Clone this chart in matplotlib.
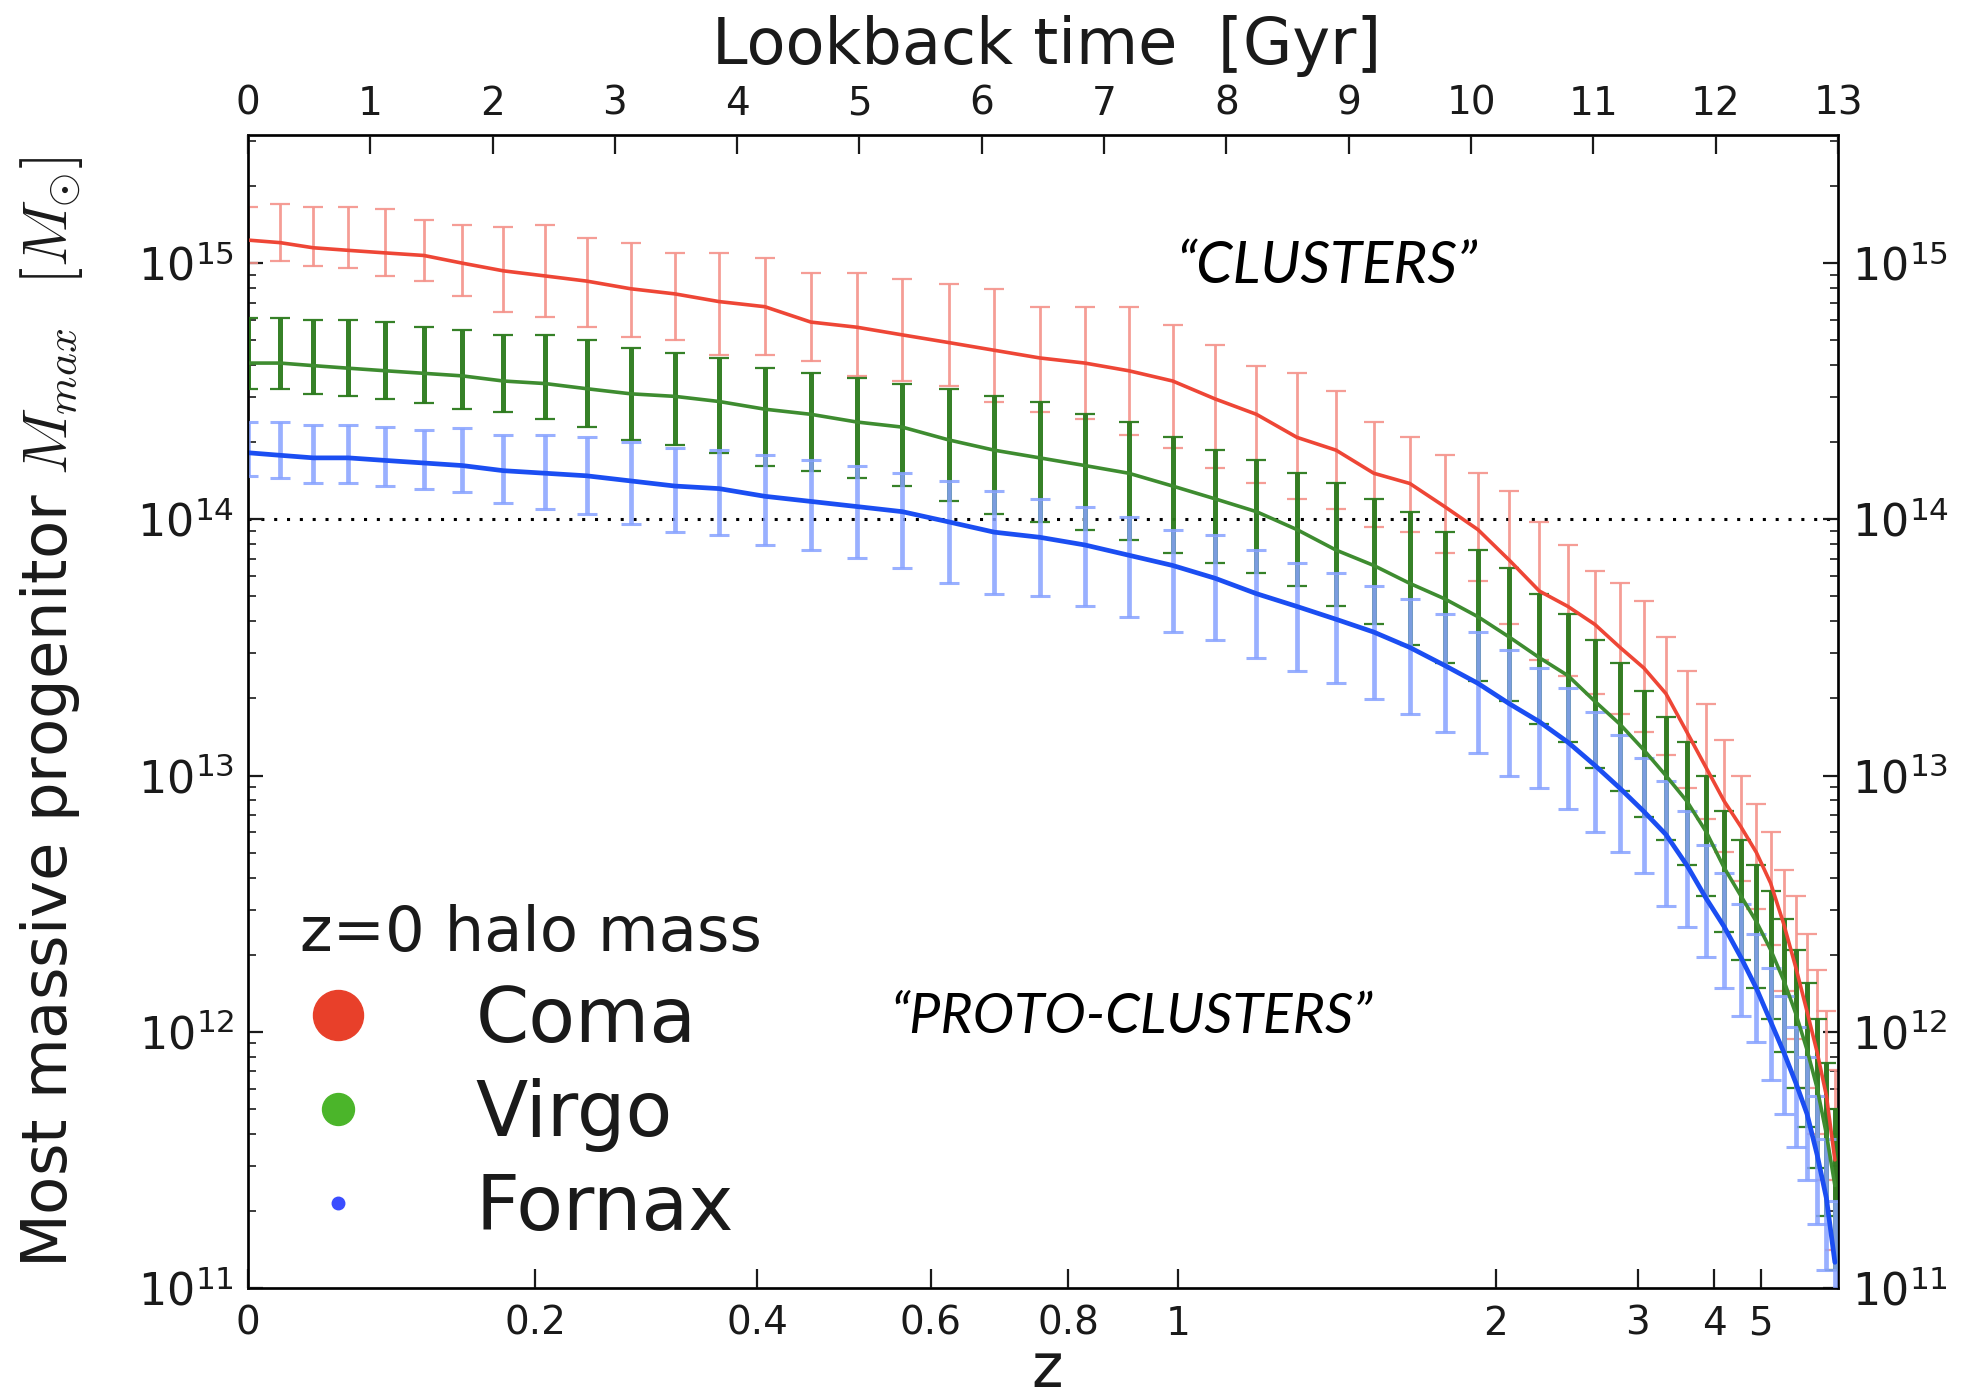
import numpy as np
import matplotlib
matplotlib.use("Agg")
import matplotlib.pyplot as plt
from matplotlib.lines import Line2D
from matplotlib.ticker import LogLocator, NullFormatter, NullLocator

plt.rcParams['font.family'] = ['DejaVu Sans']
plt.rcParams['mathtext.fontset'] = 'dejavusans'

# ---------------- data ----------------
# snapshot redshifts (Millennium simulation outputs)
snap_z = [0.0, 0.020, 0.041, 0.064, 0.089, 0.116, 0.144, 0.175, 0.208, 0.242,
          0.280, 0.320, 0.362, 0.408, 0.457, 0.509, 0.564, 0.624, 0.687, 0.755,
          0.828, 0.905, 0.989, 1.078, 1.173, 1.276, 1.386, 1.504, 1.630, 1.766,
          1.913, 2.070, 2.239, 2.422, 2.619, 2.831, 3.060, 3.306, 3.576, 3.866,
          4.179, 4.520, 4.888, 5.289, 5.724, 6.197, 6.712, 7.272, 7.883, 8.549]

# log10 of most massive progenitor mass (median), and error bar extents in dex
coma_logm = [15.09, 15.08, 15.06, 15.05, 15.04, 15.03, 15.00, 14.97, 14.95, 14.93,
             14.90, 14.88, 14.85, 14.83, 14.77, 14.75, 14.72, 14.69, 14.66, 14.63,
             14.61, 14.58, 14.54, 14.47, 14.41, 14.32, 14.27, 14.18, 14.14, 14.05,
             13.96, 13.84, 13.72, 13.66, 13.59, 13.50, 13.42, 13.32, 13.17, 13.03,
             12.90, 12.80, 12.70, 12.58, 12.42, 12.25, 12.08, 11.92, 11.75, 11.50]
coma_up = [0.13, 0.15, 0.16, 0.17, 0.17, 0.14, 0.15, 0.17, 0.20, 0.17,
           0.18, 0.16, 0.19, 0.19, 0.19, 0.21, 0.22, 0.23, 0.24, 0.20,
           0.22, 0.25, 0.22, 0.21, 0.19, 0.25, 0.23, 0.20, 0.18, 0.20,
           0.22, 0.27, 0.27, 0.24, 0.21, 0.25, 0.26, 0.22, 0.24, 0.25,
           0.24, 0.20, 0.19, 0.20, 0.21, 0.28, 0.30, 0.32, 0.33, 0.35]
coma_lo = [0.09, 0.07, 0.07, 0.07, 0.09, 0.10, 0.13, 0.16, 0.16, 0.18,
           0.19, 0.18, 0.21, 0.19, 0.15, 0.19, 0.18, 0.17, 0.20, 0.21,
           0.22, 0.25, 0.26, 0.27, 0.27, 0.24, 0.23, 0.21, 0.19, 0.18,
           0.20, 0.25, 0.27, 0.27, 0.27, 0.26, 0.25, 0.24, 0.22, 0.20,
           0.20, 0.21, 0.22, 0.24, 0.26, 0.28, 0.30, 0.32, 0.33, 0.35]

virgo_logm = [14.61, 14.61, 14.60, 14.59, 14.58, 14.57, 14.56, 14.54, 14.53, 14.51,
              14.49, 14.48, 14.46, 14.43, 14.41, 14.38, 14.36, 14.31, 14.27, 14.24,
              14.21, 14.18, 14.13, 14.08, 14.03, 13.96, 13.88, 13.82, 13.75, 13.69,
              13.62, 13.54, 13.46, 13.39, 13.29, 13.20, 13.10, 13.00, 12.90, 12.78,
              12.64, 12.53, 12.43, 12.32, 12.20, 12.07, 11.93, 11.78, 11.60, 11.40]
virgo_up = [0.175, 0.175, 0.18, 0.19, 0.19, 0.18, 0.18, 0.18, 0.19, 0.19,
            0.18, 0.17, 0.17, 0.16, 0.16, 0.17, 0.17, 0.20, 0.21, 0.22,
            0.20, 0.20, 0.19, 0.19, 0.20, 0.22, 0.26, 0.26, 0.28, 0.26,
            0.26, 0.27, 0.25, 0.24, 0.24, 0.24, 0.23, 0.23, 0.23, 0.22,
            0.22, 0.22, 0.22, 0.23, 0.24, 0.25, 0.26, 0.27, 0.28, 0.30]
virgo_lo = [0.10, 0.10, 0.11, 0.11, 0.11, 0.115, 0.13, 0.12, 0.14, 0.15,
            0.18, 0.19, 0.20, 0.22, 0.22, 0.22, 0.23, 0.24, 0.25, 0.25,
            0.25, 0.26, 0.26, 0.25, 0.24, 0.22, 0.22, 0.23, 0.24, 0.25,
            0.25, 0.25, 0.26, 0.26, 0.26, 0.26, 0.26, 0.25, 0.25, 0.25,
            0.25, 0.25, 0.26, 0.27, 0.28, 0.29, 0.30, 0.31, 0.32, 0.33]

fornax_logm = [14.26, 14.25, 14.24, 14.24, 14.23, 14.22, 14.21, 14.19, 14.18, 14.17,
               14.15, 14.13, 14.12, 14.09, 14.07, 14.05, 14.03, 13.99, 13.95, 13.93,
               13.90, 13.86, 13.82, 13.77, 13.71, 13.66, 13.61, 13.56, 13.50, 13.43,
               13.36, 13.28, 13.21, 13.13, 13.04, 12.95, 12.86, 12.77, 12.65, 12.52,
               12.41, 12.29, 12.17, 12.04, 11.92, 11.80, 11.68, 11.52, 11.35, 11.10]
fornax_up = [0.12, 0.13, 0.13, 0.13, 0.13, 0.13, 0.145, 0.14, 0.15, 0.15,
             0.15, 0.15, 0.15, 0.16, 0.16, 0.16, 0.15, 0.16, 0.16, 0.15,
             0.15, 0.15, 0.14, 0.17, 0.17, 0.17, 0.18, 0.18, 0.19, 0.20,
             0.20, 0.21, 0.21, 0.21, 0.21, 0.21, 0.21, 0.21, 0.21, 0.21,
             0.21, 0.21, 0.21, 0.21, 0.22, 0.22, 0.22, 0.23, 0.23, 0.24]
fornax_lo = [0.09, 0.09, 0.10, 0.10, 0.10, 0.10, 0.105, 0.125, 0.14, 0.15,
             0.17, 0.18, 0.18, 0.19, 0.19, 0.20, 0.22, 0.24, 0.24, 0.23,
             0.24, 0.24, 0.26, 0.24, 0.25, 0.25, 0.25, 0.26, 0.26, 0.26,
             0.27, 0.28, 0.26, 0.26, 0.26, 0.25, 0.24, 0.28, 0.24, 0.23,
             0.24, 0.23, 0.21, 0.23, 0.24, 0.25, 0.26, 0.27, 0.28, 0.30]

series_names = ["Coma", "Virgo", "Fornax"]
z_ticks = [0, 0.2, 0.4, 0.6, 0.8, 1, 2, 3, 4, 5]
z_ticklabels = ["0", "0.2", "0.4", "0.6", "0.8", "1", "2", "3", "4", "5"]
lookback_ticks = list(range(0, 14))
threshold_mass = 1e14

# ---------------- cosmology for the z <-> lookback-time scale ----------------
H0, Om, OL = 73.0, 0.25, 0.75
tH = 977.8 / H0
A_c = 2.0 * tH / (3.0 * np.sqrt(OL))
B_c = np.sqrt(OL / Om)
t0 = A_c * np.arcsinh(B_c)


def z_to_lb(z):
    z = np.clip(np.asarray(z, dtype=float), -0.95, 1e5)
    return t0 - A_c * np.arcsinh(B_c * (1.0 + z) ** -1.5)


def lb_to_z(L):
    L = np.clip(np.asarray(L, dtype=float), -30.0, t0 - 1e-3)
    return (B_c / np.sinh((t0 - L) / A_c)) ** (2.0 / 3.0) - 1.0


# ---------------- figure ----------------
fig = plt.figure(figsize=(19.66, 13.98), dpi=100)
ax = fig.add_axes([0.1261, 0.0787, 0.8088, 0.8247])
ax.set_xscale('function', functions=(z_to_lb, lb_to_z))
ax.set_yscale('log')
zmax = float(lb_to_z(13.0))
ax.set_xlim(0, zmax)
ax.set_ylim(1e11, 10 ** 15.5)

styles = [
    dict(logm=coma_logm, up=coma_up, lo=coma_lo, line='#ee4636', bar='#f4938b',
         blw=2.0, lw=2.6, balpha=0.9, cth=1.6),
    dict(logm=virgo_logm, up=virgo_up, lo=virgo_lo, line='#3e8c30', bar='#2b7a1c',
         blw=3.6, lw=2.6, balpha=0.95, cth=1.6),
    dict(logm=fornax_logm, up=fornax_up, lo=fornax_lo, line='#1b4ef2', bar='#87a2ff',
         blw=3.4, lw=3.4, balpha=0.85, cth=2.2),
]

zarr = np.array(snap_z)
for i, s in enumerate(styles):
    lm = np.array(s['logm'])
    med = 10 ** lm
    lower = med - 10 ** (lm - np.array(s['lo']))
    upper = 10 ** (lm + np.array(s['up'])) - med
    ax.errorbar(zarr, med, yerr=[lower, upper], fmt='none', ecolor=s['bar'],
                elinewidth=s['blw'], capsize=7, capthick=s['cth'],
                alpha=s['balpha'], zorder=2 + i)
for i, s in enumerate(styles):
    med = 10 ** np.array(s['logm'])
    ax.plot(zarr, med, color=s['line'], lw=s['lw'], zorder=6 + i,
            solid_capstyle='round')

ax.axhline(threshold_mass, color='black', lw=2.2, ls=(0, (1, 3.2)), zorder=1)

# x axis (bottom: redshift)
ax.set_xticks(z_ticks)
ax.set_xticklabels(z_ticklabels)
ax.xaxis.set_minor_locator(NullLocator())
ax.tick_params(axis='x', which='major', direction='in', length=14, width=1.6,
               labelsize=28, pad=12, colors='#1a1a1a')
ax.set_xlabel('z', fontsize=43, color='#1a1a1a')
ax.xaxis.set_label_coords(0.5025, -0.046)

# y axis
ax.yaxis.set_major_locator(LogLocator(base=10, numticks=10))
ax.yaxis.set_minor_locator(LogLocator(base=10, subs=np.arange(2, 10), numticks=20))
ax.yaxis.set_minor_formatter(NullFormatter())
ax.tick_params(axis='y', which='both', direction='in', left=True, right=True,
               labelleft=True, labelright=True, colors='#1a1a1a')
ax.tick_params(axis='y', which='major', length=11, width=1.6, labelsize=32, pad=10)
ax.tick_params(axis='y', which='minor', length=5.5, width=1.2)
ax.set_ylabel(r'Most massive progenitor $M_{max}$  $[M_{\odot}]$', fontsize=45,
              color='#1a1a1a', math_fontfamily='cm')
ax.yaxis.set_label_coords(-0.1025, 0.4996)

for sp in ax.spines.values():
    sp.set_linewidth(2.0)
    sp.set_color('#111111')

# top axis: lookback time
ax_top = ax.twiny()
ax_top.set_xlim(0, 13)
ax_top.set_xticks(lookback_ticks)
ax_top.tick_params(axis='x', which='major', direction='in', length=14, width=1.6,
                   labelsize=28, pad=9, colors='#1a1a1a')
ax_top.xaxis.set_minor_locator(NullLocator())
ax_top.set_xlabel('Lookback time  [Gyr]', fontsize=46, color='#1a1a1a')
ax_top.xaxis.set_label_coords(0.5025, 1.062)

# annotations
ax.text(0.6786, 0.8864, '\u201cCLUSTERS\u201d', transform=ax.transAxes,
        ha='center', va='center', fontsize=42, family='Lato', style='italic',
        color='black')
ax.text(0.556, 0.2342, '\u201cPROTO-CLUSTERS\u201d', transform=ax.transAxes,
        ha='center', va='center', fontsize=40, family='Lato', style='italic',
        color='black')

# legend
marker_colors = ['#e8402a', '#4bb52a', '#3a4dff']
marker_sizes = [36, 23, 9]
handles = [Line2D([], [], ls='none', marker='o', ms=ms, mfc=c, mec=c)
           for c, ms in zip(marker_colors, marker_sizes)]
leg = ax.legend(handles, series_names, title='z=0 halo mass', loc='upper left',
                bbox_to_anchor=(0.0327, 0.333), frameon=False, fontsize=55,
                title_fontsize=45, handlelength=1.0, handletextpad=1.3,
                labelspacing=0.26, borderpad=0, borderaxespad=0,
                alignment='left', numpoints=1)
for t in leg.get_texts():
    t.set_color('#1a1a1a')
leg.get_title().set_color('#1a1a1a')

fig.savefig('out.png', dpi=100)
